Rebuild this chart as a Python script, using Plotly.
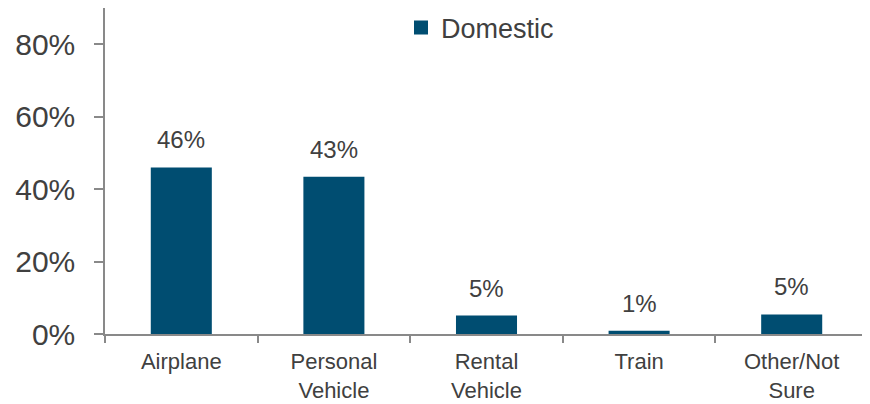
import plotly.graph_objects as go

categories = ["Airplane", "Personal<br>Vehicle", "Rental<br>Vehicle", "Train", "Other/Not<br>Sure"]
domestic = [46.0, 43.4, 5.1, 0.9, 5.4]
labels = ["46%", "43%", "5%", "1%", "5%"]
y_ticks = [0, 20, 40, 60, 80]
y_tick_text = ["0%", "20%", "40%", "60%", "80%"]
series_name = "Domestic"

FONT = "Liberation Sans, Arial, sans-serif"
TEXT = "#404040"
AXIS = "#898989"
BAR = "#004D71"

fig = go.Figure()
fig.add_trace(go.Bar(
    x=categories, y=domestic, name=series_name, showlegend=False,
    marker=dict(color=BAR, line=dict(width=0)),
))
# legend-only entry with a larger square swatch
fig.add_trace(go.Scatter(
    x=[None], y=[None], mode="markers", name=series_name,
    marker=dict(symbol="square", size=14, color=BAR),
))

for c, v, t in zip(categories, domestic, labels):
    fig.add_annotation(x=c, y=v, text=t, showarrow=False, yanchor="bottom",
                       yshift=12, font=dict(family=FONT, size=24, color=TEXT))

fig.update_layout(
    width=870, height=404,
    margin=dict(l=97, r=10, t=0, b=78, autoexpand=False),
    paper_bgcolor="white", plot_bgcolor="white",
    bargap=0.6,
    showlegend=True,
    legend=dict(x=(393 - 97) / 763, xanchor="left", y=1 - 20 / 326, yanchor="middle",
                orientation="h", font=dict(family=FONT, size=27, color=TEXT),
                bgcolor="rgba(0,0,0,0)", borderwidth=0, itemwidth=30),
    font=dict(family=FONT, color=TEXT),
)
fig.update_xaxes(
    showline=True, linecolor=AXIS, linewidth=1.5,
    ticks="outside", tickson="boundaries", ticklen=7, tickcolor=AXIS, tickwidth=1.5,
    tickfont=dict(family=FONT, size=22, color=TEXT),
    ticklabelstandoff=7,
    showgrid=False,
)
fig.update_yaxes(
    range=[0, 90], tickvals=y_ticks, ticktext=y_tick_text,
    showline=True, linecolor=AXIS, linewidth=1.5,
    ticks="outside", ticklen=9, tickcolor=AXIS, tickwidth=1.5,
    tickfont=dict(family=FONT, size=30, color=TEXT),
    ticklabelstandoff=13,
    showgrid=False, zeroline=False,
)
fig.write_html("out.html")
